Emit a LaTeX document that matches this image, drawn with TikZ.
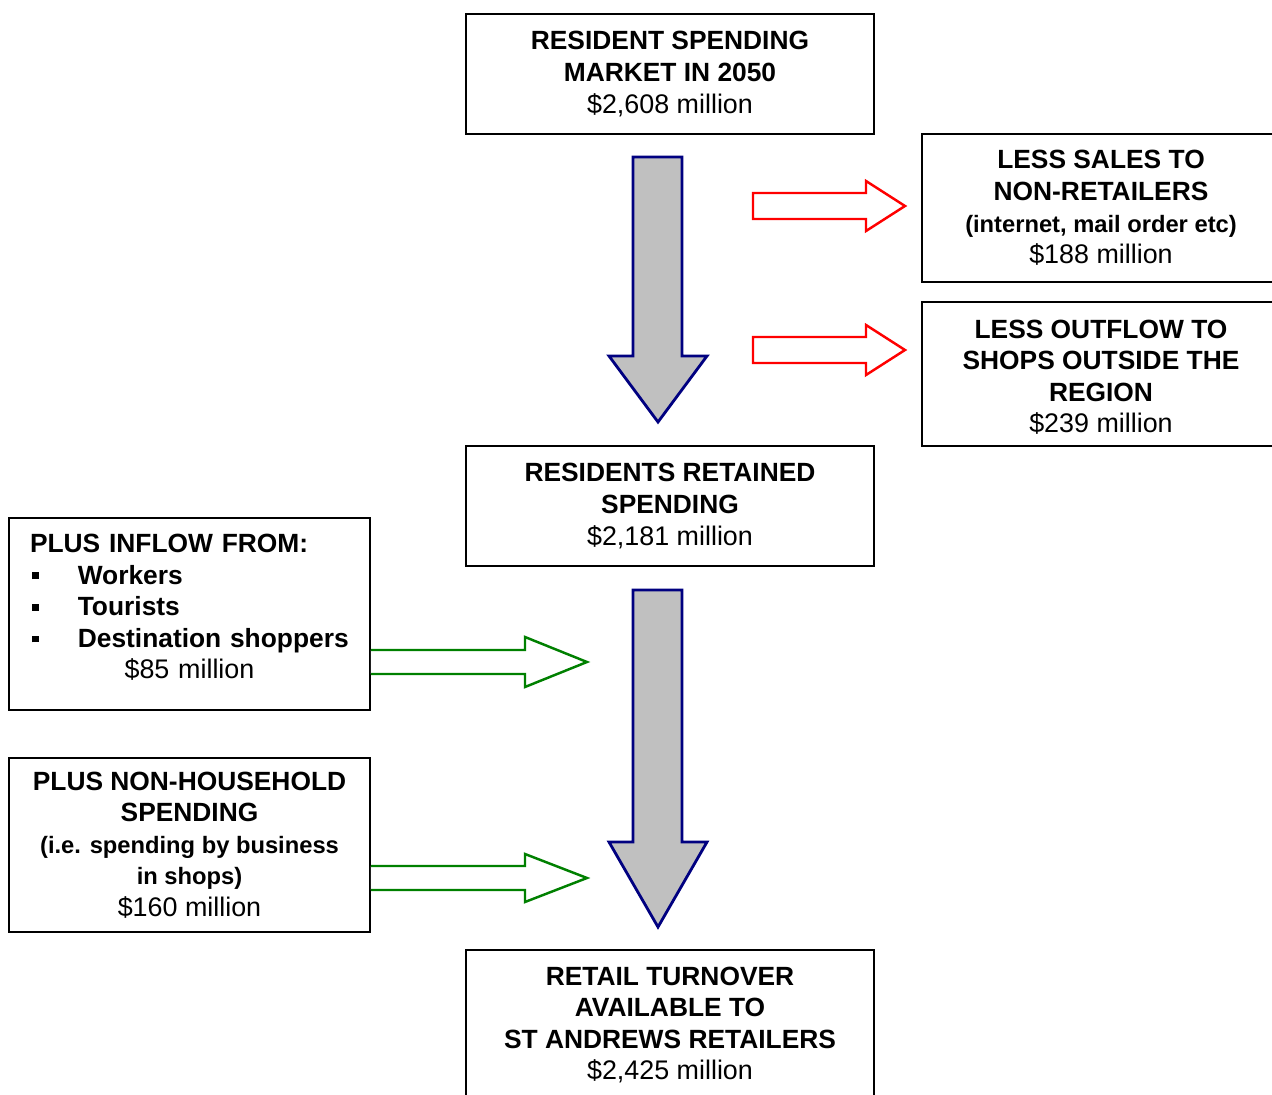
\documentclass[tikz,border=0pt]{standalone}
\usepackage{fontspec}
\setmainfont{Liberation Sans}
\usepackage{xcolor}
\usepackage{tikz}
\usetikzlibrary{positioning}
\usetikzlibrary{calc}

\definecolor{arrownavy}{RGB}{0,0,128}
\definecolor{arrowgrey}{RGB}{192,192,192}
\definecolor{lessred}{RGB}{255,0,0}
\definecolor{plusgreen}{RGB}{0,128,0}

\newcommand{\money}[1]{{\fontsize{15.3}{18}\selectfont\mdseries #1}}
\newcommand{\smallhead}[1]{{\fontsize{13.5}{17}\selectfont #1}}
\newcommand{\sqbullet}{\makebox[27.2pt][l]{\hspace{1.2pt}\rule[2.8pt]{3.8pt}{3.8pt}}}

\begin{document}
\begin{tikzpicture}[x=0.02cm, y=-0.02cm,
    flowbox/.style={draw, line width=1.1pt, align=center, inner sep=0pt,
        font=\fontsize{15}{18}\selectfont\bfseries},
    downflow/.style={draw=arrownavy, fill=arrowgrey, line width=1.6pt, line join=miter},
    lessflow/.style={draw=lessred, fill=white, line width=1.4pt, line join=miter},
    plusflow/.style={draw=plusgreen, fill=white, line width=1.4pt, line join=miter}]
    \clip (0,0) rectangle (1272,1095);

        \node [flowbox, minimum width=8.16cm, minimum height=2.4cm] (market) at (670,74)
            {RESIDENT SPENDING\\MARKET IN 2050\\\money{\$2,608 million}};
        \node [flowbox, minimum width=7.16cm, minimum height=2.96cm] (nonretail) at (1101,208)
            {LESS SALES TO\\NON-RETAILERS\\\smallhead{(internet, mail order etc)}\\\money{\$188 million}};
        \node [flowbox, minimum width=7.16cm, minimum height=2.88cm] (outflow) at (1101,374)
            {\rule{0pt}{4pt}\\[-7.8pt]LESS OUTFLOW TO\\SHOPS OUTSIDE THE\\REGION\\\money{\$239 million}};
        \node [flowbox, minimum width=8.16cm, minimum height=2.4cm] (retained) at (670,506)
            {RESIDENTS RETAINED\\SPENDING\\\money{\$2,181 million}};
        \node [flowbox, minimum width=7.22cm, minimum height=3.84cm, text width=6.38cm, align=left] (inflow) at (189.5,614)
            {PLUS INFLOW FROM:\\\sqbullet Workers\\\sqbullet Tourists\\\sqbullet Destination shoppers\\\makebox[6.38cm]{\money{\$85 million}}\\[-9.4pt]\rule{0pt}{0pt}};
        \node [flowbox, minimum width=7.22cm, minimum height=3.48cm] (household) at (189.5,845)
            {PLUS NON-HOUSEHOLD\\SPENDING\\\smallhead{(i.e. spending by business}\\\smallhead{in shops)}\\\money{\$160 million}};
        \node [flowbox, minimum width=8.16cm, minimum height=3.0cm] (turnover) at (670,1025)
            {RETAIL TURNOVER\\AVAILABLE TO\\ST ANDREWS RETAILERS\\\money{\$2,425 million}};

        \draw [downflow] (633,157) -- (682,157) -- (682,356) -- (707,356) -- (658,422) -- (609,356) -- (633,356) -- cycle;
        \draw [downflow] (633,590) -- (682,590) -- (682,842) -- (707,842) -- (658,927) -- (609,842) -- (633,842) -- cycle;

        \draw [lessflow] (753,193) -- (866,193) -- (866,181) -- (905,206) -- (866,231) -- (866,219) -- (753,219) -- cycle;
        \draw [lessflow] (753,337) -- (866,337) -- (866,325) -- (905,350) -- (866,375) -- (866,363) -- (753,363) -- cycle;

        \draw [plusflow] (inflow.east |- 0,650) -- (525,650) -- (525,637) -- (587,662) -- (525,687) -- (525,674) -- (inflow.east |- 0,674);
        \draw [plusflow] (household.east |- 0,866) -- (525,866) -- (525,854) -- (587,878) -- (525,902) -- (525,890) -- (household.east |- 0,890);
\end{tikzpicture}
\end{document}
